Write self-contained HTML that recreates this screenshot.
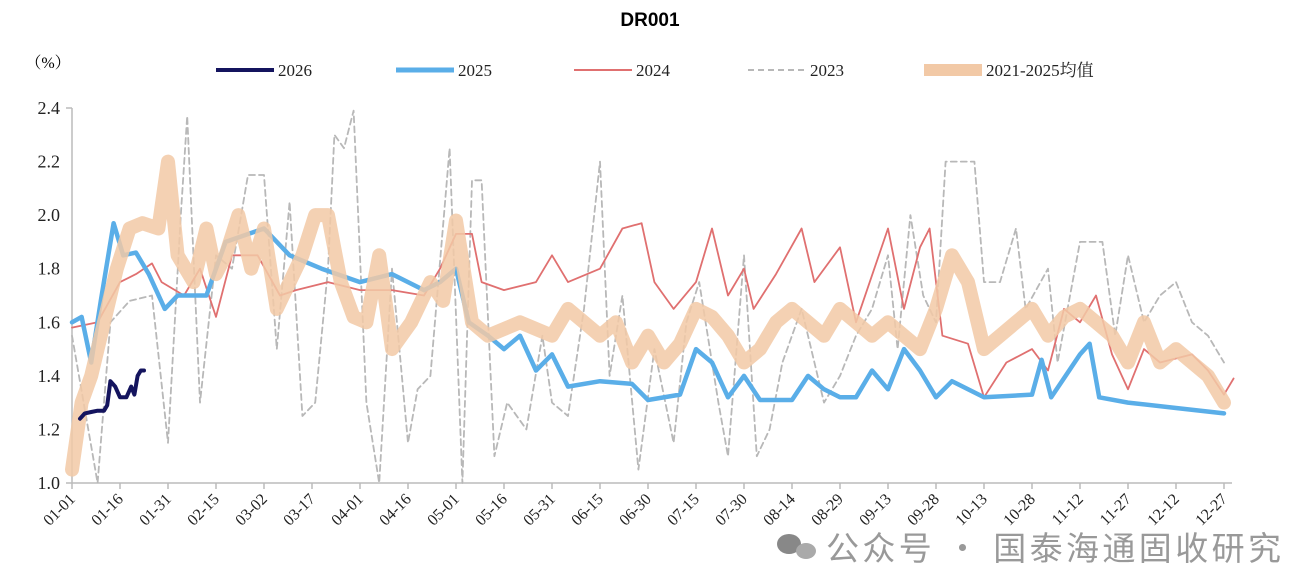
<!DOCTYPE html>
<html><head><meta charset="utf-8"><style>
body{margin:0;background:#fff;}
svg text{font-family:"Liberation Serif","Noto Serif CJK SC",serif;}
</style></head><body>
<svg id="c" width="1299" height="564" xmlns="http://www.w3.org/2000/svg"></svg>
<script>
const yTicks=[1.0,1.2,1.4,1.6,1.8,2.0,2.2,2.4];
const xLabels=["01-01","01-16","01-31","02-15","03-02","03-17","04-01","04-16","05-01","05-16","05-31","06-15","06-30","07-15","07-30","08-14","08-29","09-13","09-28","10-13","10-28","11-12","11-27","12-12","12-27"];
const d2023=[0,8,12,18,25,30,34,36,40,45,50,55,60,64,68,72,76,80,82,85,88,92,96,100,105,108,112,118,122,125,128,132,136,142,147,150,155,160,165,168,172,177,182,188,192,196,202,205,210,214,218,222,228,235,240,245,250,255,258,262,266,270,273,282,285,290,295,298,305,308,315,322,326,330,335,340,345,350,355,360];
const v2023=[1.55,1.0,1.6,1.68,1.7,1.15,2.0,2.37,1.3,1.85,1.8,2.15,2.15,1.5,2.05,1.25,1.3,1.8,2.3,2.25,2.39,1.3,1.0,1.8,1.15,1.35,1.4,2.25,1.0,2.13,2.13,1.1,1.3,1.2,1.55,1.3,1.25,1.65,2.2,1.4,1.7,1.05,1.5,1.15,1.6,1.75,1.3,1.1,1.85,1.1,1.2,1.45,1.65,1.3,1.4,1.55,1.65,1.85,1.5,2.0,1.7,1.6,2.2,2.2,1.75,1.75,1.95,1.65,1.8,1.45,1.9,1.9,1.55,1.85,1.6,1.7,1.75,1.6,1.55,1.45];
const d2024=[0,8,15,20,25,28,35,40,45,50,58,65,70,80,90,100,110,115,120,125,128,135,145,150,155,165,172,178,182,188,195,200,205,210,213,220,228,232,240,245,255,260,265,268,272,280,285,292,300,305,310,315,320,325,330,335,340,350,355,360,363];
const v2024=[1.58,1.6,1.75,1.78,1.82,1.75,1.7,1.8,1.62,1.85,1.85,1.7,1.72,1.75,1.72,1.72,1.7,1.8,1.93,1.93,1.75,1.72,1.75,1.85,1.75,1.8,1.95,1.97,1.75,1.65,1.75,1.95,1.7,1.8,1.65,1.78,1.95,1.75,1.88,1.6,1.95,1.65,1.88,1.95,1.55,1.52,1.32,1.45,1.5,1.42,1.65,1.6,1.7,1.48,1.35,1.5,1.45,1.48,1.42,1.33,1.39];
const d2025=[0,3,6,9,13,16,20,24,29,33,42,48,60,68,78,90,100,110,115,120,124,130,135,140,145,150,155,165,175,180,190,195,200,205,210,215,225,230,235,240,245,250,255,260,265,270,275,285,300,303,306,315,318,321,330,345,360];
const v2025=[1.6,1.62,1.45,1.68,1.97,1.85,1.86,1.78,1.65,1.7,1.7,1.9,1.95,1.85,1.8,1.75,1.78,1.72,1.75,1.8,1.6,1.55,1.5,1.55,1.42,1.48,1.36,1.38,1.37,1.31,1.33,1.5,1.45,1.32,1.4,1.31,1.31,1.4,1.35,1.32,1.32,1.42,1.35,1.5,1.42,1.32,1.38,1.32,1.33,1.46,1.32,1.48,1.52,1.32,1.3,1.28,1.26];
const dAvg=[0,3,6,10,14,18,22,27,30,33,38,42,45,48,52,56,60,64,68,72,76,80,84,88,92,96,100,106,112,116,120,125,130,140,150,155,160,165,170,175,180,185,190,195,200,205,210,215,220,225,230,235,240,245,250,255,260,265,270,275,280,285,290,295,300,305,310,315,320,325,330,335,340,345,350,355,360];
const vAvg=[1.05,1.3,1.4,1.6,1.8,1.95,1.97,1.95,2.2,1.85,1.75,1.95,1.78,1.85,2.0,1.8,1.95,1.65,1.75,1.85,2.0,2.0,1.75,1.62,1.6,1.85,1.5,1.6,1.75,1.68,1.98,1.6,1.55,1.6,1.55,1.65,1.6,1.55,1.6,1.45,1.55,1.45,1.52,1.65,1.62,1.55,1.45,1.5,1.6,1.65,1.6,1.55,1.65,1.6,1.55,1.6,1.55,1.5,1.65,1.85,1.75,1.5,1.55,1.6,1.65,1.55,1.62,1.65,1.6,1.55,1.45,1.6,1.45,1.5,1.45,1.4,1.3];
const d2026=[2.5,4,6,8,10,11,12,13.5,15,17,18.5,19.5,20.5,21.5,22.5];
const v2026=[1.24,1.26,1.265,1.27,1.27,1.29,1.38,1.36,1.32,1.32,1.36,1.33,1.4,1.42,1.42];

const svg=document.getElementById('c');
const NS='http://www.w3.org/2000/svg';
const X=d=>72+d*48/15;
const Y=v=>483-(v-1.0)/1.4*375;
function mk(t,a,p){const e=document.createElementNS(NS,t);for(const k in a)e.setAttribute(k,a[k]);(p||svg).appendChild(e);return e;}
function txt(x,y,s,a){const e=mk('text',Object.assign({x:x,y:y},a));e.textContent=s;return e;}

let t=txt(650,26,'DR001',{'text-anchor':'middle','font-size':19,'font-weight':'bold','style':'font-family:Liberation Sans,sans-serif'});


t=txt(48,68,'（%）',{'text-anchor':'middle','font-size':16});



yTicks.forEach(v=>{
  const e=txt(60,Y(v)+6,v.toFixed(1),{'text-anchor':'end','font-size':18,'fill':'#222'});
  
  
});
let ax=mk('line',{x1:72,y1:Y(2.4),x2:72,y2:483,stroke:'#bbb','stroke-width':1.5});


ax=mk('line',{x1:66,y1:483,x2:1232,y2:483,stroke:'#bbb','stroke-width':1.5});


mk('line',{x1:66,y1:Y(2.4),x2:72,y2:Y(2.4),stroke:'#bbb','stroke-width':1.5});
xLabels.forEach((s,i)=>{
  const x=X(i*15);
  mk('line',{x1:x,y1:483,x2:x,y2:489,stroke:'#bbb','stroke-width':1.5});
  const e=txt(x+4,500,s,{'text-anchor':'end','font-size':16,'transform':`rotate(-45 ${x+4} 500)`,'fill':'#222'});
  
  
});
function line(ds,vs,style,name){
  const pts=ds.map((d,i)=>X(d).toFixed(1)+','+Y(vs[i]).toFixed(1)).join(' ');
  const e=mk('polyline',Object.assign({points:pts,fill:'none','stroke-linejoin':'round','stroke-linecap':'round'},style));
  
  
}
line(d2023,v2023,{stroke:'#b8b8b8','stroke-width':1.8,'stroke-dasharray':'6 4'},'series-2023');
line(d2024,v2024,{stroke:'#e07070','stroke-width':1.8},'series-2024');
line(d2025,v2025,{stroke:'#5aaee8','stroke-width':4.5},'series-2025');
line(dAvg,vAvg,{stroke:'#f2c9a6','stroke-width':14,'stroke-opacity':0.85},'series-avg-2021-2025');
line(d2026,v2026,{stroke:'#14145e','stroke-width':4},'series-2026');

const leg=[['2026','#14145e',4,null,216],['2025','#5aaee8',5,null,396],['2024','#e07070',2,null,574],['2023','#b8b8b8',2,'6 4',748],['2021-2025均值','#f2c9a6',12,null,924]];
leg.forEach(l=>{
  const g=mk('g',{});
  
  
  const a={x1:l[4],y1:70,x2:l[4]+58,y2:70,stroke:l[1],'stroke-width':l[2]};
  if(l[3])a['stroke-dasharray']=l[3];
  mk('line',a,g);
  const e=txt(l[4]+62,76,l[0],{'font-size':17,'fill':'#222'});
  g.appendChild(e);
});
const wm=mk('g',{});


mk('ellipse',{cx:789,cy:544,rx:12,ry:10,fill:'#888'},wm);
mk('ellipse',{cx:806,cy:551,rx:10,ry:8,fill:'#aaa'},wm);
const w=txt(826,560,'公众号 · 国泰海通固收研究',{'font-size':33,'fill':'#999','textLength':455,'style':'font-family:Noto Sans CJK SC,sans-serif'});
wm.appendChild(w);
</script>
</body></html>
